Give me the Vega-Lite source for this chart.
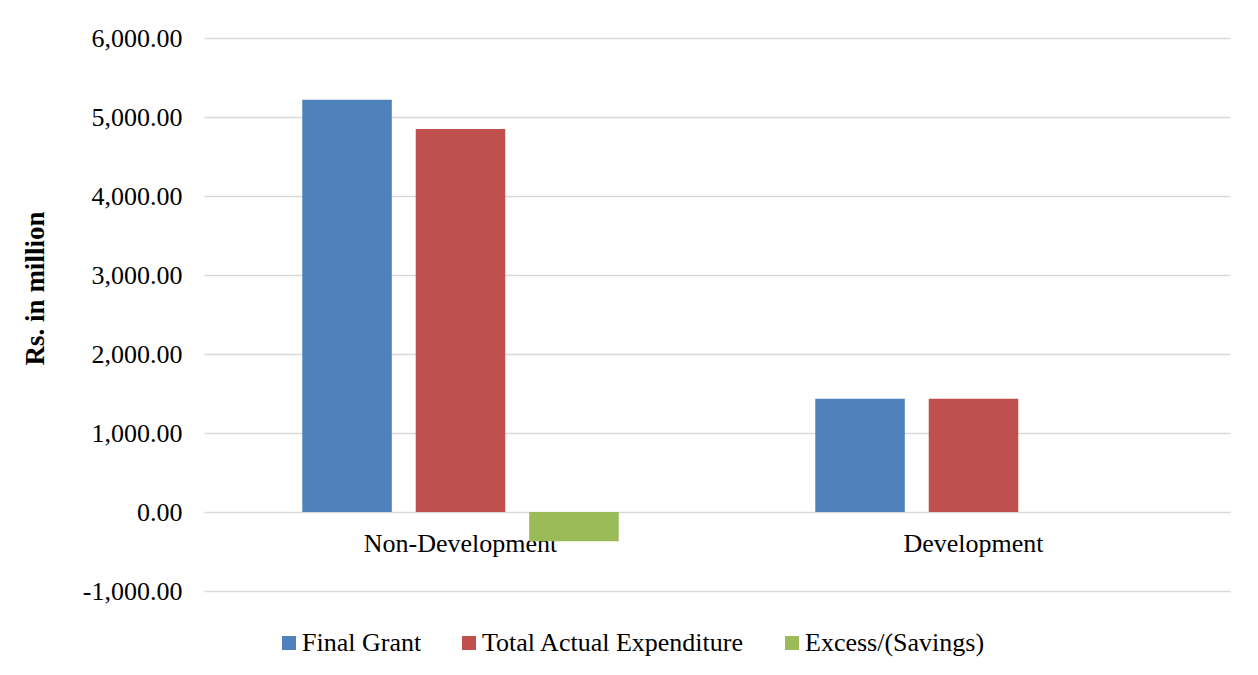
{
  "$schema": "https://vega.github.io/schema/vega-lite/v6.json",
  "autosize": {"type": "none"},
  "width": 1026,
  "height": 553,
  "padding": {"left": 204, "top": 38, "right": 28, "bottom": 84},
  "background": "white",
  "data": {
    "values": [
      {"head": "Non-Development", "measure": "Final Grant", "value": 5219},
      {"head": "Non-Development", "measure": "Total Actual Expenditure", "value": 4848},
      {"head": "Non-Development", "measure": "Excess/(Savings)", "value": -371},
      {"head": "Development", "measure": "Final Grant", "value": 1435},
      {"head": "Development", "measure": "Total Actual Expenditure", "value": 1435},
      {"head": "Development", "measure": "Excess/(Savings)", "value": 0}
    ]
  },
  "mark": {"type": "bar"},
  "encoding": {
    "x": {
      "field": "head",
      "type": "nominal",
      "sort": ["Non-Development", "Development"],
      "scale": {"paddingInner": 0, "paddingOuter": 0},
      "axis": {
        "title": null,
        "orient": "bottom",
        "offset": -79,
        "domain": false,
        "ticks": false,
        "labelAngle": 0,
        "labelBaseline": "alphabetic",
        "labelPadding": 39,
        "labelLimit": 0,
        "labelFontSize": 26,
        "labelFont": "Liberation Serif",
        "labelColor": "#000000"
      }
    },
    "xOffset": {
      "field": "measure",
      "type": "nominal",
      "sort": ["Final Grant", "Total Actual Expenditure", "Excess/(Savings)"],
      "scale": {"paddingInner": 0.211, "paddingOuter": 0.866}
    },
    "y": {
      "field": "value",
      "type": "quantitative",
      "scale": {"domain": [-1000, 6000], "nice": false, "zero": true},
      "axis": {
        "title": "Rs. in million",
        "titleFont": "Liberation Serif",
        "titleFontSize": 27,
        "titleFontWeight": "bold",
        "titleColor": "#000000",
        "titleX": -161,
        "titleY": 250,
        "titleBaseline": "alphabetic",
        "values": [-1000, 0, 1000, 2000, 3000, 4000, 5000, 6000],
        "format": ",.2f",
        "labelExpr": "replace(datum.label, '\u2212', '-')",
        "domain": false,
        "ticks": false,
        "labelPadding": 22,
        "labelFontSize": 26,
        "labelFont": "Liberation Serif",
        "labelColor": "#000000",
        "grid": true,
        "gridColor": "#d9d9d9",
        "gridWidth": 1.5
      }
    },
    "color": {
      "field": "measure",
      "type": "nominal",
      "sort": ["Final Grant", "Total Actual Expenditure", "Excess/(Savings)"],
      "scale": {
        "domain": ["Final Grant", "Total Actual Expenditure", "Excess/(Savings)"],
        "range": ["#4F81BD", "#C0504D", "#9BBB59"]
      },
      "legend": {
        "title": null,
        "orient": "none",
        "direction": "horizontal",
        "legendX": 72,
        "legendY": 592,
        "symbolType": "square",
        "symbolSize": 196,
        "symbolStrokeWidth": 0,
        "labelOffset": 0,
        "columnPadding": 34,
        "labelLimit": 0,
        "labelFontSize": 26,
        "labelFont": "Liberation Serif",
        "labelColor": "#000000"
      }
    }
  },
  "config": {
    "view": {"stroke": null}
  }
}
